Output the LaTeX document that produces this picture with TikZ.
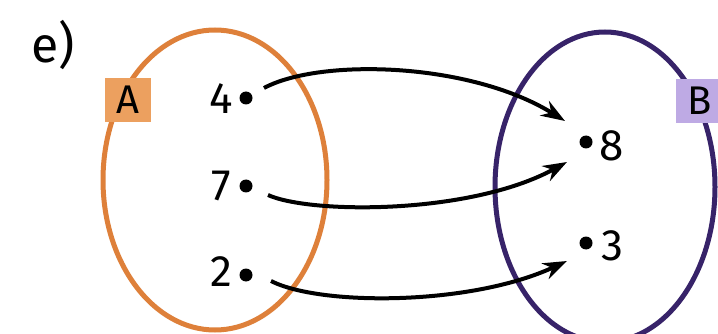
\documentclass[tikz,border=0pt]{standalone}
\usepackage{fontspec}
\setmainfont{Fira Sans}
\usetikzlibrary{arrows.meta}
\definecolor{orA}{RGB}{222,128,58}
\definecolor{orFill}{RGB}{236,160,95}
\definecolor{puB}{RGB}{55,35,105}
\definecolor{puFill}{RGB}{190,170,228}
\tikzset{
  setA/.style={draw=orA,line width=5pt},
  setB/.style={draw=puB,line width=5pt},
  elem/.style={inner sep=0pt,font=\fontsize{44}{50}\selectfont},
  dotpt/.style={circle,fill=black,inner sep=0pt,minimum size=13pt},
  tagbox/.style={inner sep=0pt,minimum width=46pt,minimum height=44pt,font=\fontsize{40}{46}\selectfont},
  maparrow/.style={line width=4pt,-{Stealth[length=24pt,width=17pt]}}
}
\begin{document}
\begin{tikzpicture}[x=1pt,y=-1pt]
\useasboundingbox (0,0) rectangle (718,334);
\clip (0,0) rectangle (718,334);
\fill[white] (0,0) rectangle (718,334);
% sets
\draw[setA] (215,180) ellipse [x radius=112pt, y radius=150pt];
\draw[setB] (605,187) ellipse [x radius=110pt, y radius=155pt];
% tags
\node[tagbox,fill=orFill] (tagA) at (128,100) {A};
\node[tagbox,fill=puFill,anchor=west] (tagB) at (676,101) {B};
% title
\node[elem,font=\fontsize{50}{56}\selectfont] (title) at (53,45) {e)};
% elements of A
\node[elem] (n4) at (221,99) {4};
\node[elem] (n7) at (221,186) {7};
\node[elem] (n2) at (221,272) {2};
\node[dotpt] (d4) at (246,98) {};
\node[dotpt] (d7) at (246,186) {};
\node[dotpt] (d2) at (246,275) {};
% elements of B
\node[dotpt] (d8) at (586,142) {};
\node[dotpt] (d3) at (586,243) {};
\node[elem] (n8) at (612,146) {8};
\node[elem] (n3) at (612,246) {3};
% arrow ends
\coordinate (s4) at (264,88);
\coordinate (s7) at (268,195);
\coordinate (s2) at (271,281);
\coordinate (e8a) at (565,121);
\coordinate (e8b) at (567,162);
\coordinate (e3) at (567,261);
\draw[maparrow] (s4) .. controls (320,58) and (470,62) .. (e8a);
\draw[maparrow] (s7) .. controls (310,214) and (470,215) .. (e8b);
\draw[maparrow] (s2) .. controls (320,306) and (470,306) .. (e3);
\end{tikzpicture}
\end{document}
